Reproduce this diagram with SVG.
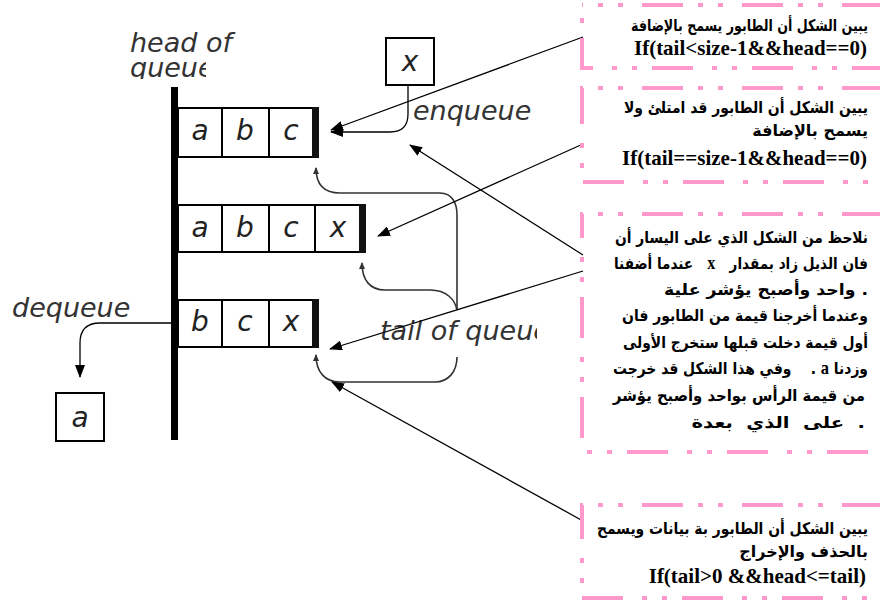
<svg xmlns="http://www.w3.org/2000/svg" width="880" height="605" viewBox="0 0 880 605">
<style>
.cell{fill:#fff;stroke:#000;stroke-width:2}
.end{fill:#111}
.lbl{font-family:"DejaVu Sans",sans-serif;font-style:italic;font-size:28px;fill:#222}
.cap{font-family:"DejaVu Sans",sans-serif;font-style:italic;font-size:27px;fill:#333}
.note{fill:none;stroke:#ff99cc;stroke-width:4;stroke-dasharray:41 15 5 15 5 19;stroke-dashoffset:40}
.ar{font-family:"DejaVu Sans",sans-serif;font-weight:bold;font-size:16px;fill:#000;white-space:pre}
.code{font-family:"Liberation Serif",serif;font-weight:bold;font-size:21px;fill:#000}
.lat{font-family:"Liberation Serif",serif;font-weight:bold;font-size:19px}
.conn{stroke:#000;stroke-width:1.3;fill:none}
.curve{stroke:#333;stroke-width:1.6;fill:none}
</style>
<defs>
<marker id="ah" viewBox="0 0 13 10" refX="12" refY="5" markerWidth="13" markerHeight="10" orient="auto" markerUnits="userSpaceOnUse"><path d="M0,0 L13,5 L0,10 z" fill="#000"/></marker>
<marker id="as" viewBox="0 0 7 6" refX="6" refY="3" markerWidth="7" markerHeight="6" orient="auto" markerUnits="userSpaceOnUse"><path d="M0,0 L7,3 L0,6 z" fill="#333"/></marker>
<clipPath id="clipQueue"><rect x="110" y="55" width="96" height="24"/></clipPath>
<clipPath id="clipTail"><rect x="370" y="300" width="167" height="60"/></clipPath>
</defs>

<g id="head-bar">
<rect x="171" y="87" width="7" height="353" fill="#000"/>
</g>
<g id="head-label">
<text class="cap" x="130" y="52">head of</text>
<text class="cap" x="130" y="77" clip-path="url(#clipQueue)">queue</text>
</g>

<g id="row1">
<rect class="cell" x="178" y="108" width="137" height="49"/>
<line x1="222" y1="108" x2="222" y2="157" stroke="#000" stroke-width="2"/>
<line x1="269" y1="108" x2="269" y2="157" stroke="#000" stroke-width="2"/>
<rect class="end" x="312" y="107" width="7" height="51"/>
<text class="lbl" x="200" y="140" text-anchor="middle">a</text>
<text class="lbl" x="245" y="140" text-anchor="middle">b</text>
<text class="lbl" x="291" y="140" text-anchor="middle">c</text>
</g>

<g id="row2">
<rect class="cell" x="178" y="205" width="184" height="47"/>
<line x1="222" y1="205" x2="222" y2="252" stroke="#000" stroke-width="2"/>
<line x1="269" y1="205" x2="269" y2="252" stroke="#000" stroke-width="2"/>
<line x1="315" y1="205" x2="315" y2="252" stroke="#000" stroke-width="2"/>
<rect class="end" x="359" y="204" width="7" height="49"/>
<text class="lbl" x="200" y="237" text-anchor="middle">a</text>
<text class="lbl" x="245" y="237" text-anchor="middle">b</text>
<text class="lbl" x="291" y="237" text-anchor="middle">c</text>
<text class="lbl" x="338" y="237" text-anchor="middle">x</text>
</g>

<g id="row3">
<rect class="cell" x="178" y="300" width="137" height="47"/>
<line x1="222" y1="300" x2="222" y2="347" stroke="#000" stroke-width="2"/>
<line x1="269" y1="300" x2="269" y2="347" stroke="#000" stroke-width="2"/>
<rect class="end" x="312" y="299" width="7" height="49"/>
<text class="lbl" x="200" y="331" text-anchor="middle">b</text>
<text class="lbl" x="245" y="331" text-anchor="middle">c</text>
<text class="lbl" x="291" y="331" text-anchor="middle">x</text>
</g>

<g id="x-box">
<rect class="cell" x="386" y="38" width="48" height="47"/>
<text class="lbl" x="410" y="71" text-anchor="middle">x</text>
</g>

<g id="a-box">
<rect class="cell" x="56" y="393" width="48" height="48"/>
<text class="lbl" x="80" y="427" text-anchor="middle">a</text>
</g>

<g id="enqueue-label"><text class="cap" x="413" y="120">enqueue</text></g>
<g id="dequeue-label"><text class="cap" x="12" y="317">dequeue</text></g>
<g id="tail-label" clip-path="url(#clipTail)"><text class="cap" x="380" y="340">tail of queue</text></g>

<g id="connectors">
<path class="conn" d="M408,86 L408,114 Q408,132 390,132 L331,132" marker-end="url(#ah)"/>
<path class="conn" d="M172,323 L100,323 Q80,323 80,343 L80,377" marker-end="url(#ah)"/>
<path class="curve" d="M457,310 L457,215 C457,203 452,193 440,193 L340,193 C325,193 316,185 316,168" marker-end="url(#as)"/>
<path class="curve" d="M457,310 C455,300 447,290 430,290 L385,290 C370,290 362,280 362,263" marker-end="url(#as)"/>
<path class="curve" d="M457,357 C457,372 448,382 435,382 L340,382 C325,382 316,372 316,355" marker-end="url(#as)"/>
<line class="conn" x1="583" y1="37" x2="331" y2="130" marker-end="url(#ah)"/>
<line class="conn" x1="583" y1="144" x2="378" y2="236" marker-end="url(#ah)"/>
<line class="conn" x1="583" y1="255" x2="410" y2="145" marker-end="url(#ah)"/>
<line class="conn" x1="583" y1="271" x2="330" y2="349" marker-end="url(#ah)"/>
<line class="conn" x1="583" y1="521" x2="332" y2="382" marker-end="url(#ah)"/>
</g>

<g id="note1">
<rect class="note" x="582" y="5" width="304" height="63"/>
<text class="ar" x="868" y="31" text-anchor="end" textLength="237" lengthAdjust="spacingAndGlyphs">يبين الشكل أن الطابور يسمح بالإضافة</text>
<text class="code" x="867" y="55" text-anchor="end">If(tail&lt;size-1&amp;&amp;head==0)</text>
</g>

<g id="note2">
<rect class="note" x="582" y="88" width="304" height="94"/>
<text class="ar" x="868" y="113" text-anchor="end" textLength="244" lengthAdjust="spacingAndGlyphs">يبين الشكل أن الطابور قد امتلئ ولا</text>
<text class="ar" x="868" y="136" text-anchor="end">يسمح بالإضافة</text>
<text class="code" x="867" y="165" text-anchor="end">If(tail==size-1&amp;&amp;head==0)</text>
</g>

<g id="note3">
<rect class="note" x="582" y="214" width="304" height="238"/>
<text class="ar" x="868" y="243" text-anchor="end" textLength="253" lengthAdjust="spacingAndGlyphs">نلاحظ من الشكل الذي على اليسار أن</text>
<text class="ar" x="868" y="269" text-anchor="end" textLength="254" lengthAdjust="spacingAndGlyphs">عندما أضفنا   <tspan class="lat">x</tspan>   فان الذيل زاد بمقدار</text>
<text class="ar" x="0" y="0" text-anchor="end" transform="translate(868,295) scale(1.08,1)">واحد وأصبح يؤشر علية .</text>
<text class="ar" x="868" y="321" text-anchor="end" textLength="246" lengthAdjust="spacingAndGlyphs">وعندما أخرجنا قيمة من الطابور فان</text>
<text class="ar" x="868" y="348" text-anchor="end" textLength="245" lengthAdjust="spacingAndGlyphs">أول قيمة دخلت قبلها ستخرج الأولى</text>
<text class="ar" x="868" y="374" text-anchor="end" textLength="255" lengthAdjust="spacingAndGlyphs">وفي هذا الشكل قد خرجت    . <tspan class="lat">a</tspan> وزدنا</text>
<text class="ar" x="865" y="401" text-anchor="end" textLength="252" lengthAdjust="spacingAndGlyphs">من قيمة الرأس بواحد وأصبح يؤشر</text>
<text class="ar" x="0" y="0" text-anchor="end" transform="translate(865,428) scale(1.22,1)">على  الذي  بعدة  .</text>
</g>

<g id="note4">
<rect class="note" x="582" y="505" width="304" height="93"/>
<text class="ar" x="868" y="534" text-anchor="end" textLength="271" lengthAdjust="spacingAndGlyphs">يبين الشكل أن الطابور بة بيانات ويسمح</text>
<text class="ar" x="868" y="557" text-anchor="end">بالحذف والإخراج</text>
<text class="code" x="866" y="583" text-anchor="end">If(tail&gt;0 &amp;&amp;head&lt;=tail)</text>
</g>
</svg>
